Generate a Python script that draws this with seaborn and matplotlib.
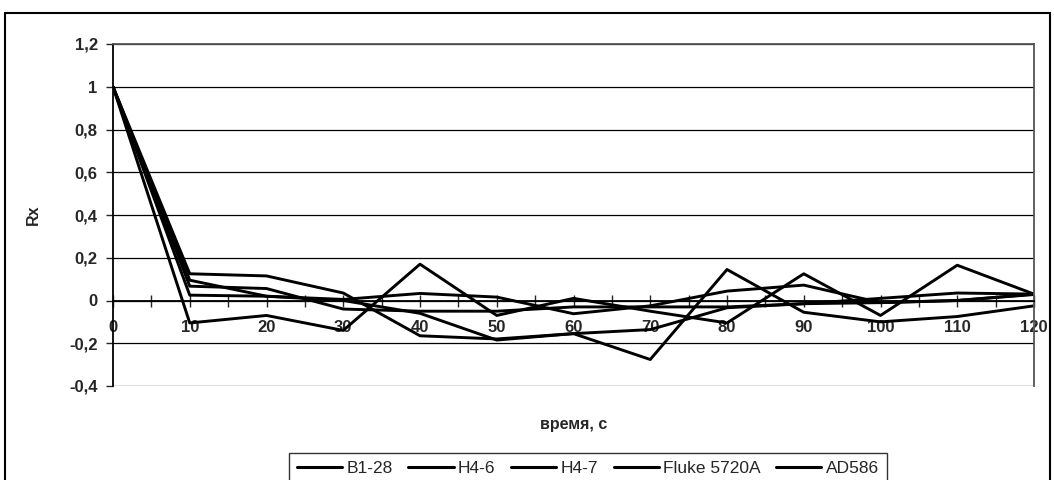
import numpy as np
import pandas as pd
import matplotlib
matplotlib.use("Agg")
import matplotlib.pyplot as plt
import seaborn as sns
from matplotlib.patches import Rectangle
from matplotlib.ticker import MultipleLocator, FuncFormatter

# time, s
t = [0, 10, 20, 30, 40, 50, 60, 70, 80, 90, 100, 110, 120]

b1_28 = [1, -0.105, -0.07, -0.14, 0.17, -0.07, 0.01, -0.05, -0.105, 0.125, -0.07, 0.165, 0.03]
h4_6 = [1, 0.125, 0.115, 0.035, -0.165, -0.18, -0.155, -0.276, 0.145, -0.055, -0.10, -0.075, -0.025]
h4_7 = [1, 0.095, 0.02, 0.0, -0.06, -0.185, -0.155, -0.136, -0.034, -0.015, -0.01, 0.0, 0.03]
fluke = [1, 0.067, 0.056, -0.04, -0.05, -0.05, -0.03, -0.03, -0.03, -0.015, 0.01, 0.035, 0.03]
ad586 = [1, 0.025, 0.02, 0.005, 0.033, 0.016, -0.062, -0.025, 0.044, 0.072, -0.01, 0.0, 0.028]

names = ["B1-28", "H4-6", "H4-7", "Fluke 5720A", "AD586"]
series = [b1_28, h4_6, h4_7, fluke, ad586]

df = pd.concat([pd.DataFrame({"t": t, "Rx": s, "name": n}) for n, s in zip(names, series)])

sns.set_style("white")
plt.rcParams['font.family'] = ['Liberation Sans', 'DejaVu Sans']

fig = plt.figure(figsize=(10.54, 4.8), dpi=100)
ax = fig.add_axes([113/1054, 1-386/480, 921/1054, 342/480])

sns.lineplot(data=df, x="t", y="Rx", hue="name", palette=["black"]*5,
             linewidth=2.1, ax=ax, legend=False)

ax.set_xlim(0, 120)
ax.set_ylim(-0.4, 1.2)
ax.yaxis.set_major_locator(MultipleLocator(0.2))
ax.xaxis.set_major_locator(MultipleLocator(10))
ax.xaxis.set_minor_locator(MultipleLocator(5))
ax.yaxis.set_major_formatter(FuncFormatter(lambda v, p: ("%g" % round(v, 1)).replace(".", ",")))
ax.yaxis.grid(True, color="black", linewidth=0.9)
ax.set_axisbelow(True)

# x axis crosses at zero
ax.spines["bottom"].set_position(("data", 0))
for s in ["left", "bottom"]:
    ax.spines[s].set_color("black")
    ax.spines[s].set_linewidth(1.3)
for s in ["top", "right"]:
    ax.spines[s].set_color("#555555")
    ax.spines[s].set_linewidth(1.3)

ax.tick_params(axis="x", which="both", direction="inout", length=8, width=1, pad=10,
               bottom=True, labelsize=12)
ax.tick_params(axis="y", direction="out", length=5, width=1, pad=6, left=True, labelsize=12)
for lab in ax.get_xticklabels() + ax.get_yticklabels():
    lab.set_fontweight("bold")

ax.set_xlabel("время, с", fontsize=11.5, fontweight="bold")
ax.set_ylabel("Rx", fontsize=11.5, fontweight="bold")
ax.xaxis.set_label_coords(0.5, -0.09)
ax.yaxis.set_label_coords(-0.078, 0.5)

handles = [plt.Line2D([], [], color="black", linewidth=2.2) for _ in names]
leg = fig.legend(handles, names, loc="upper center", bbox_to_anchor=(588/1054, 1-444/480),
                 ncol=5, frameon=True, fontsize=12.5, handlelength=2.6, handletextpad=0.25,
                 columnspacing=0.9, fancybox=False, borderpad=0.45)
leg.get_frame().set_edgecolor("black")
leg.get_frame().set_linewidth(1)

# outer chart border
fig.patches.append(Rectangle((5/1054, -0.1), 1045/1054, 1.1 - 13/480, transform=fig.transFigure,
                             fill=False, edgecolor="black", linewidth=1.5))

plt.savefig("out.png", dpi=100)
